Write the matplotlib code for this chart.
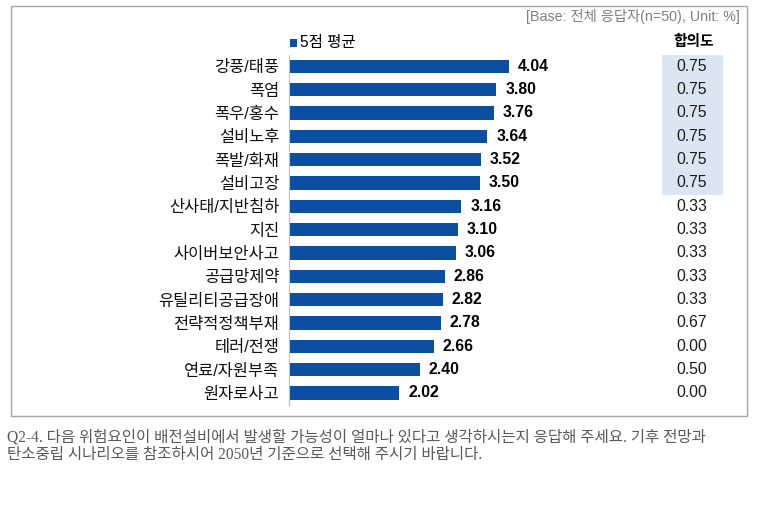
import matplotlib
matplotlib.use("Agg")
import matplotlib.pyplot as plt
import matplotlib.transforms as mtransforms
from matplotlib.patches import Rectangle

plt.rcParams["font.family"] = ["Liberation Sans", "Noto Sans CJK KR"]

categories = [
    "강풍/태풍", "폭염", "폭우/홍수", "설비노후", "폭발/화재", "설비고장",
    "산사태/지반침하", "지진", "사이버보안사고", "공급망제약", "유틸리티공급장애",
    "전략적정책부재", "테러/전쟁", "연료/자원부족", "원자로사고",
]
scores = [4.04, 3.80, 3.76, 3.64, 3.52, 3.50, 3.16, 3.10, 3.06, 2.86, 2.82, 2.78, 2.66, 2.40, 2.02]
agreement = [0.75, 0.75, 0.75, 0.75, 0.75, 0.75, 0.33, 0.33, 0.33, 0.33, 0.33, 0.67, 0.00, 0.50, 0.00]
legend_label = "5점 평균"
agreement_title = "합의도"
base_note = "[Base: 전체 응답자(n=50), Unit: %]"
question = [
    "Q2-4. 다음 위험요인이 배전설비에서 발생할 가능성이 얼마나 있다고 생각하시는지 응답해 주세요. 기후 전망과",
    "탄소중립 시나리오를 참조하시어 2050년 기준으로 선택해 주시기 바랍니다.",
]

W, H = 776, 507
BAR_COLOR = "#0B4EA2"


def fx(px):
    return px / W


def fy(py):
    return 1 - py / H


fig = plt.figure(figsize=(W / 100, H / 100), dpi=100)

# outer frame
fig.add_artist(Rectangle((fx(11), fy(416)), fx(747) - fx(11), (416 - 6) / H,
                         transform=fig.transFigure, fill=False,
                         edgecolor="#A6A6A6", linewidth=1))

ax = fig.add_axes([fx(289), fy(404.6), (649 - 289) / W, 350 / H])
pos = list(range(len(categories)))
ax.barh(pos, scores, height=0.57, color=BAR_COLOR)
for i, v in enumerate(scores):
    ax.annotate(f"{v:.2f}", (v, i), xytext=(9, 0), textcoords="offset pixels",
                ha="left", va="center", fontsize=11.3, fontweight="bold")

ax.set_xlim(0, 360 / 54.5)
ax.set_ylim(len(categories) - 0.5, -0.5)
ax.set_yticks(pos, labels=categories, fontsize=11.8, color="#111111")
ax.tick_params(axis="y", length=0, pad=7)
ax.set_xticks([])
for side in ["top", "right", "bottom"]:
    ax.spines[side].set_visible(False)
ax.spines["left"].set_color("#BFBFBF")
ax.patch.set_visible(False)

# agreement column
trans = mtransforms.blended_transform_factory(fig.transFigure, ax.transData)
for i, a in enumerate(agreement):
    if a >= 0.75:
        fig.add_artist(Rectangle((fx(662), i - 0.5), fx(723) - fx(662), 1,
                                 transform=trans, facecolor="#DCE6F2",
                                 edgecolor="none", zorder=0))
    fig.text(fx(692), i, f"{a:.2f}", transform=trans, ha="center", va="center",
             fontsize=11.3, color="#1A1A1A")
fig.text(fx(694), fy(42), agreement_title, ha="center", va="center",
         fontsize=10.6, fontweight="bold")

# legend
fig.add_artist(Rectangle((fx(290), fy(46.5)), 7 / W, 8 / H,
                         transform=fig.transFigure, facecolor=BAR_COLOR,
                         edgecolor="none"))
fig.text(fx(300), fy(42), legend_label, ha="left", va="center", fontsize=11.2)

fig.text(fx(740), fy(17), base_note, ha="right", va="center",
         fontsize=10.3, color="#7F7F7F")

for k, line in enumerate(question):
    fig.text(fx(7), fy(437 + 17.5 * k), line, ha="left", va="center",
             fontsize=11.2, color="#595959",
             family=["Liberation Serif", "Noto Sans CJK KR"])

fig.savefig("out.png", dpi=100)
